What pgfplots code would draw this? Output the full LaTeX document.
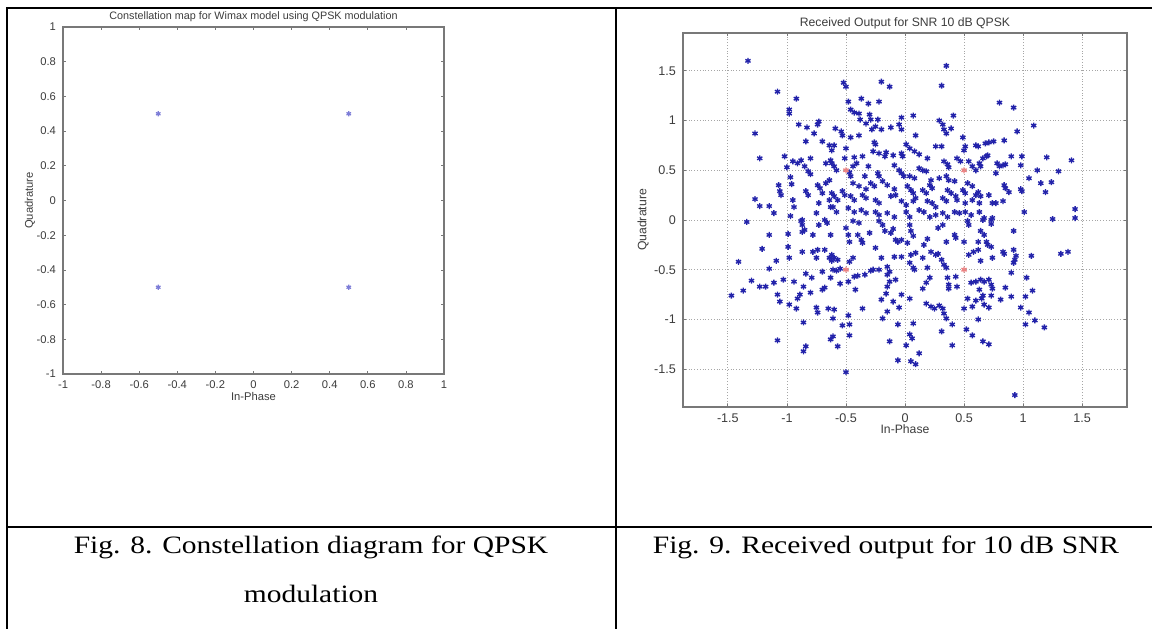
\documentclass[border=0pt]{standalone}
\usepackage{fontspec}
\setmainfont{Liberation Serif}
\setsansfont{Liberation Sans}
\usepackage{pgfplots}
\pgfplotsset{compat=1.18}
\definecolor{ptblue}{RGB}{35,35,170}
\definecolor{ptlight}{RGB}{125,125,215}
\definecolor{ptred}{RGB}{235,130,130}
\definecolor{axgray}{RGB}{120,120,120}
\definecolor{txtgray}{RGB}{60,60,60}

\pgfplotsset{
  matlab/.style={
    scale only axis,
    axis line style={axgray,line width=0.6pt},
    tick style={axgray,line width=0.4pt},
    major tick length=1.5pt,
    tick align=inside,
    /pgf/number format/assume math mode=true,
    tick label style={text=txtgray},
  }
}

\begin{document}
\begin{tikzpicture}
\useasboundingbox (0,0) rectangle (576pt,314pt);

% table rules
\draw[line width=1pt] (3pt,310pt) -- (580pt,310pt);
\draw[line width=1pt] (3.5pt,310pt) -- (3.5pt,-5pt);
\draw[line width=0.8pt] (308pt,310pt) -- (308pt,-5pt);
\draw[line width=1pt] (3.5pt,50.5pt) -- (580pt,50.5pt);

% Fig. 8
\begin{axis}[
  matlab,
  at={(31.5pt,127pt)}, anchor=south west,
  width=190.5pt, height=173.5pt,
  xmin=-1, xmax=1, ymin=-1, ymax=1,
  xtick={-1,-0.8,-0.6,-0.4,-0.2,0,0.2,0.4,0.6,0.8,1},
  ytick={-1,-0.8,-0.6,-0.4,-0.2,0,0.2,0.4,0.6,0.8,1},
  tick label style={font=\sffamily\fontsize{5.6}{6}\selectfont},
  title={Constellation map for Wimax model using QPSK modulation},
  every axis title/.style={at={(0.5,1)}, anchor=base, yshift=4pt, text=txtgray,
    font=\sffamily\fontsize{5.4}{6}\selectfont},
  xlabel={In-Phase},
  every axis x label/.style={at={(0.5,0)}, anchor=center, yshift=-11pt, text=txtgray,
    font=\sffamily\fontsize{5.6}{6}\selectfont},
  ylabel={Quadrature},
  every axis y label/.style={at={(0,0.5)}, xshift=-16.5pt, rotate=90, anchor=center, text=txtgray,
    font=\sffamily\fontsize{5.6}{6}\selectfont},
]
\addplot[only marks, mark=asterisk, mark size=1.3pt, ptlight, line width=0.6pt] coordinates {
  (-0.5,0.5) (0.5,0.5) (-0.5,-0.5) (0.5,-0.5)
};
\end{axis}

% Fig. 9
\begin{axis}[
  matlab,
  at={(341.5pt,110.5pt)}, anchor=south west,
  width=222pt, height=187pt,
  xmin=-1.88, xmax=1.88, ymin=-1.88, ymax=1.88,
  xtick={-1.5,-1,-0.5,0,0.5,1,1.5},
  ytick={-1.5,-1,-0.5,0,0.5,1,1.5},
  grid=major,
  grid style={densely dotted, black!35, line width=0.4pt},
  tick label style={font=\sffamily\fontsize{6.3}{7}\selectfont},
  title={Received Output for SNR 10 dB QPSK},
  every axis title/.style={at={(0.5,1)}, anchor=base, yshift=3pt, text=txtgray,
    font=\sffamily\fontsize{6.1}{7}\selectfont},
  xlabel={In-Phase},
  every axis x label/.style={at={(0.5,0)}, anchor=center, yshift=-11pt, text=txtgray,
    font=\sffamily\fontsize{6.1}{7}\selectfont},
  ylabel={Quadrature},
  every axis y label/.style={at={(0,0.5)}, xshift=-20pt, rotate=90, anchor=center, text=txtgray,
    font=\sffamily\fontsize{6.1}{7}\selectfont},
]
\addplot[only marks, mark=asterisk, mark size=1.5pt, ptblue, line width=0.7pt] table {
x y
-1.33 1.60
-1.08 1.29
-0.92 1.22
-0.98 1.11
-0.98 1.07
-1.27 0.87
-0.90 0.96
-0.83 0.93
-0.74 0.96
-0.73 0.99
-0.77 0.87
-0.84 0.79
-0.70 0.79
-0.64 0.75
-1.23 0.62
-1.02 0.64
-0.95 0.59
-0.91 0.57
-0.88 0.60
-0.85 0.54
-0.82 0.49
-0.80 0.46
-0.80 0.62
-1.00 0.53
-0.97 0.43
-0.96 0.36
-1.07 0.35
-1.06 0.29
-1.05 0.25
-1.27 0.21
-1.23 0.14
-1.15 0.14
-1.11 0.07
-0.95 0.20
-0.94 0.13
-0.97 0.04
-0.84 0.29
-0.82 0.25
-0.74 0.35
-0.72 0.32
-0.70 0.27
-0.75 0.07
-0.67 0.57
-0.63 0.60
-0.67 0.37
-0.64 0.40
-0.73 0.17
-0.64 0.20
-0.63 0.13
-0.87 0.00
0.35 1.55
0.31 1.35
-0.52 1.38
-0.50 1.34
-0.20 1.39
-0.13 1.34
-0.48 1.19
-0.46 1.11
-0.43 1.08
-0.37 1.22
-0.31 1.17
-0.22 1.19
-0.39 1.07
-0.38 1.01
-0.30 1.06
-0.29 1.01
-0.23 1.01
-0.25 0.94
-0.03 1.03
-0.05 0.96
-0.03 0.91
0.07 1.05
-0.12 0.93
-0.20 0.91
-0.28 0.91
-0.33 0.97
-0.59 0.92
-0.54 0.89
-0.53 0.85
-0.46 0.83
-0.39 0.85
0.01 0.76
0.04 0.72
0.09 0.85
0.29 1.00
0.32 0.96
0.33 0.91
0.35 0.87
0.41 1.05
0.39 0.92
0.26 0.74
0.31 0.74
0.49 0.83
0.51 0.74
0.50 0.70
0.60 0.75
-0.60 0.75
-0.62 0.70
-0.50 0.72
-0.51 0.62
-0.43 0.63
-0.36 0.64
-0.26 0.78
-0.25 0.76
-0.27 0.69
-0.22 0.67
-0.17 0.64
-0.16 0.68
-0.10 0.65
-0.03 0.67
-0.02 0.64
-0.31 0.54
-0.41 0.57
-0.44 0.54
-0.09 0.55
0.08 0.69
0.12 0.66
0.19 0.62
0.33 0.59
0.36 0.56
0.37 0.53
0.44 0.62
0.47 0.59
0.54 0.59
0.57 0.54
0.60 0.50
-0.62 0.57
-0.60 0.54
-0.58 0.50
-0.47 0.48
-0.46 0.44
-0.34 0.44
-0.23 0.47
-0.22 0.44
-0.05 0.50
-0.03 0.47
-0.01 0.44
0.04 0.44
0.08 0.42
0.12 0.52
0.15 0.50
0.18 0.49
0.22 0.40
0.29 0.42
0.35 0.44
0.37 0.40
0.42 0.39
0.53 0.37
0.57 0.34
-0.44 0.37
-0.39 0.34
-0.33 0.31
-0.29 0.37
-0.26 0.34
-0.19 0.39
-0.15 0.35
-0.09 0.31
-0.08 0.25
0.02 0.34
0.05 0.30
0.07 0.27
0.15 0.30
0.18 0.27
0.21 0.35
0.23 0.32
0.36 0.30
0.39 0.27
0.49 0.30
0.51 0.27
-0.62 0.27
-0.60 0.24
-0.57 0.20
-0.53 0.29
-0.51 0.25
-0.46 0.24
-0.43 0.20
-0.36 0.25
-0.33 0.22
-0.25 0.20
-0.22 0.17
-0.12 0.24
-0.03 0.19
0.01 0.15
0.07 0.19
0.09 0.22
0.19 0.19
0.23 0.17
0.26 0.13
0.32 0.22
0.35 0.19
0.43 0.24
0.44 0.20
0.51 0.17
0.57 0.20
0.60 0.25
-0.61 0.13
-0.58 0.08
-0.48 0.12
-0.43 0.08
-0.37 0.10
-0.33 0.07
-0.25 0.08
-0.22 0.05
-0.15 0.07
-0.09 0.03
0.01 0.08
0.04 0.03
0.12 0.10
0.16 0.08
0.21 0.03
0.26 0.05
0.32 0.07
0.36 0.03
0.42 0.08
0.46 0.07
0.51 0.08
0.56 0.05
0.80 1.18
0.92 1.13
1.09 0.95
0.95 0.89
0.68 0.77
0.71 0.78
0.75 0.79
0.84 0.80
0.62 0.74
0.66 0.62
0.69 0.64
0.70 0.65
0.63 0.57
0.64 0.54
0.78 0.57
0.80 0.54
0.83 0.55
0.85 0.56
0.77 0.47
0.90 0.64
0.99 0.64
0.98 0.55
1.20 0.63
1.12 0.50
1.30 0.49
1.41 0.60
1.05 0.42
1.15 0.37
1.24 0.38
1.19 0.28
0.84 0.35
0.85 0.32
0.88 0.28
0.98 0.31
0.99 0.29
0.62 0.28
0.64 0.24
0.71 0.25
0.74 0.17
0.77 0.17
0.83 0.19
0.63 0.17
1.01 0.08
1.44 0.11
1.44 0.02
1.25 0.01
0.63 0.08
0.67 0.02
0.74 0.02
-1.34 -0.02
-1.15 -0.15
-0.99 -0.14
-1.21 -0.29
-0.99 -0.27
-0.98 -0.38
-1.09 -0.41
-1.41 -0.42
-1.15 -0.49
-1.30 -0.61
-1.37 -0.71
-1.47 -0.76
-1.23 -0.67
-1.18 -0.67
-1.11 -0.63
-1.03 -0.60
-1.08 -0.75
-1.06 -0.82
-0.98 -0.85
-0.92 -0.89
-0.94 -0.62
-0.86 -0.67
-0.89 -0.75
-0.91 -0.79
-0.84 -0.54
-0.87 -0.32
-0.79 -0.58
-0.80 -0.73
-0.75 -0.88
-0.74 -0.93
-0.70 -0.70
-0.68 -0.68
-0.65 -0.89
-0.86 -1.03
-1.08 -1.21
-0.84 -1.27
-0.86 -1.32
-0.63 -1.20
-0.87 -0.12
-0.85 -0.10
-0.88 -0.01
-0.87 -0.05
-0.78 -0.15
-0.73 -0.05
-0.78 -0.32
-0.74 -0.30
-0.75 -0.38
-0.68 -0.30
-0.70 -0.52
-0.64 -0.38
-0.62 -0.41
-0.63 -0.58
-0.68 0.00
-0.66 -0.03
-0.63 -0.15
-0.50 -1.53
-0.06 -1.41
0.05 -1.42
0.09 -1.45
0.12 -1.34
0.01 -1.26
-0.13 -1.22
0.04 -1.15
0.06 -1.19
-0.06 -1.05
0.07 -1.04
0.40 -1.26
0.31 -1.12
0.57 -1.16
0.52 -1.10
-0.61 -1.17
-0.57 -1.27
-0.47 -1.16
-0.53 -1.06
-0.47 -1.05
-0.48 -0.96
-0.61 -0.99
-0.60 -0.90
-0.36 -0.89
-0.19 -0.99
-0.15 -0.92
-0.20 -0.80
-0.05 -0.88
-0.10 -0.82
0.04 -0.79
-0.03 -0.75
-0.16 -0.74
-0.42 -0.70
-0.55 -0.64
-0.48 -0.62
-0.43 -0.57
-0.40 -0.56
-0.34 -0.55
-0.29 -0.51
-0.61 -0.50
-0.58 -0.51
-0.55 -0.49
-0.15 -0.47
-0.13 -0.52
-0.15 -0.55
-0.13 -0.62
-0.08 -0.60
-0.15 -0.67
0.04 -0.43
0.07 -0.48
0.08 -0.50
-0.03 -0.37
-0.09 -0.37
-0.20 -0.38
0.05 -0.35
0.09 -0.33
0.15 -0.38
0.22 -0.32
0.26 -0.35
0.28 -0.34
0.31 -0.40
0.33 -0.45
0.35 -0.48
0.19 -0.48
0.21 -0.58
0.18 -0.63
0.15 -0.69
0.18 -0.84
0.22 -0.87
0.25 -0.89
0.29 -0.86
0.32 -0.89
0.33 -0.94
0.35 -0.99
0.40 -1.05
0.36 -0.58
0.37 -0.65
0.37 -0.69
0.43 -0.57
0.44 -0.67
0.50 -0.89
0.57 -0.87
0.53 -0.79
0.60 -0.81
0.56 -0.63
0.60 -0.62
0.54 -0.35
0.58 -0.32
0.50 -0.22
0.35 -0.22
0.42 -0.15
0.43 -0.18
0.28 -0.08
0.32 -0.05
0.53 -0.01
0.54 -0.05
0.04 -0.05
0.05 -0.11
0.07 -0.16
-0.03 -0.20
-0.06 -0.22
0.02 -0.23
0.16 -0.25
0.19 -0.19
-0.19 -0.05
-0.17 -0.11
-0.12 -0.13
-0.08 -0.20
-0.22 -0.01
-0.50 -0.08
-0.48 -0.15
-0.47 -0.22
-0.40 -0.15
-0.37 -0.20
-0.36 -0.23
-0.44 -0.01
-0.39 -0.03
-0.62 -0.35
-0.60 -0.38
-0.57 -0.40
-0.44 -0.38
-0.47 -0.42
-0.27 -0.50
-0.22 -0.50
-0.30 -0.13
-0.25 -0.28
-0.10 -0.09
0.93 -1.76
1.18 -1.08
1.10 -1.01
1.02 -1.05
1.05 -0.93
0.98 -0.88
1.08 -0.71
1.02 -0.77
1.03 -0.58
0.90 -0.77
0.85 -0.68
0.81 -0.80
0.90 -0.53
1.07 -0.36
1.32 -0.34
1.38 -0.32
0.92 -0.11
0.83 -0.32
0.84 -0.34
0.92 -0.30
0.94 -0.36
0.93 -0.40
0.92 -0.43
0.74 -0.38
0.64 -0.41
0.62 -0.30
0.70 -0.25
0.73 -0.27
0.69 -0.22
0.64 -0.11
0.67 -0.15
0.62 -0.22
0.66 0.00
0.73 0.00
0.73 -0.04
0.64 -0.60
0.67 -0.62
0.71 -0.60
0.73 -0.65
0.74 -0.69
0.63 -0.70
0.66 -0.76
0.65 -0.79
0.67 -0.85
0.71 -0.88
0.73 -0.76
0.66 -1.22
0.71 -1.25
0.62 -1.00
};
\addplot[only marks, mark=asterisk, mark size=1.5pt, ptred, line width=0.7pt] coordinates {
  (-0.5,0.5) (0.5,0.5) (-0.5,-0.5) (0.5,-0.5)
};
\end{axis}

% captions
\node[anchor=base] at (155.5pt,37.5pt)
  {\scalebox{1.18}[1]{\fontsize{12.5}{15}\selectfont Fig. 8. Constellation diagram for QPSK}};
\node[anchor=base] at (155.5pt,13pt)
  {\scalebox{1.18}[1]{\fontsize{12.5}{15}\selectfont modulation}};
\node[anchor=base] at (443pt,37.5pt)
  {\scalebox{1.18}[1]{\fontsize{12.5}{15}\selectfont Fig. 9. Received output for 10 dB SNR}};
\end{tikzpicture}
\end{document}
